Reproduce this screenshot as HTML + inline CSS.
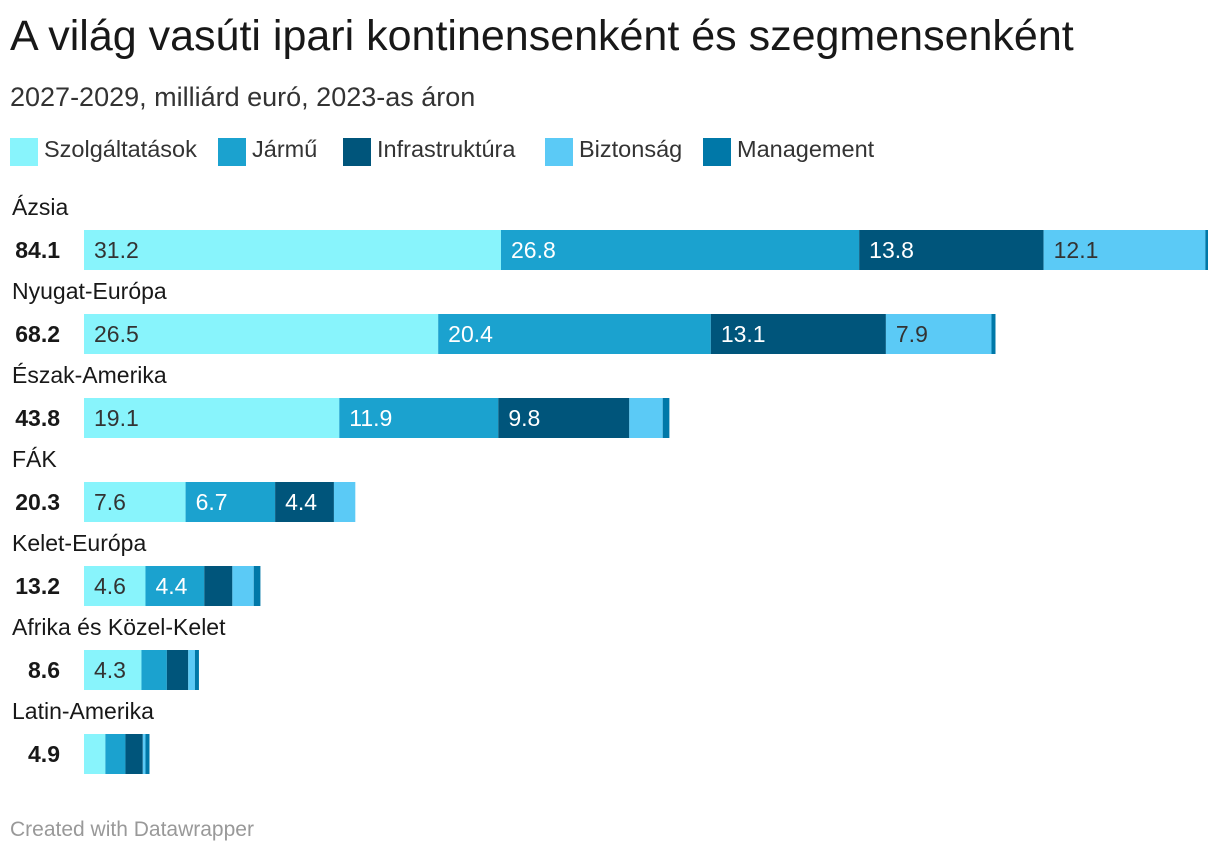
<!DOCTYPE html>
<html><head><meta charset="utf-8"><style>
body{margin:0;background:#fff;font-family:"Liberation Sans",sans-serif;color:#181818;}
#root{position:relative;width:1220px;height:854px;overflow:hidden;}
.t{position:absolute;white-space:nowrap;}
</style></head><body>
<div id="root">
<div class="t" style="left:10px;top:12px;font-size:43px;">A világ vasúti ipari kontinensenként és szegmensenként</div>
<div class="t" style="left:10px;top:82px;font-size:27px;color:#333;">2027-2029, milliárd euró, 2023-as áron</div>
<div id="legend"></div>
<svg id="plot" width="1220" height="854" style="position:absolute;left:0;top:0"></svg>
<div class="t" style="left:10px;top:818px;font-size:21px;color:#999;">Created with Datawrapper</div>
</div>
<script>
const categories=["Ázsia","Nyugat-Európa","Észak-Amerika","FÁK","Kelet-Európa","Afrika és Közel-Kelet","Latin-Amerika"];
const totals=[84.1,68.2,43.8,20.3,13.2,8.6,4.9];
const seriesNames=["Szolgáltatások","Jármű","Infrastruktúra","Biztonság","Management"];
const szolg=[31.2,26.5,19.1,7.6,4.6,4.3,1.6];
const jarmu=[26.8,20.4,11.9,6.7,4.4,1.9,1.5];
const infra=[13.8,13.1,9.8,4.4,2.1,1.6,1.3];
const bizt=[12.1,7.9,2.5,1.6,1.6,0.5,0.2];
const mgmt=[0.2,0.3,0.5,0.0,0.5,0.3,0.3];
const series=[szolg,jarmu,infra,bizt,mgmt];
const colors=["#88f4fc","#1ba2cf","#00557b","#5bcaf6","#0078a8"];
const textCol=["#333","#fff","#fff","#333","#fff"];
const x0=84, scale=(1208-84)/84.1;
const X=v=>v*scale;
const rowY=i=>230+i*84;
const svg=document.getElementById('plot');
const NS="http://www.w3.org/2000/svg";
const lg=document.getElementById('legend');
const lgX=[10,218,343,545,703];
seriesNames.forEach((n,k)=>{
  const lx=lgX[k];
  const sw=document.createElement('div');
  
  
  sw.style.cssText=`position:absolute;left:${lx}px;top:138px;width:28px;height:28px;background:${colors[k]}`;
  lg.appendChild(sw);
  const tx=document.createElement('div');
  tx.className='t';
  
  
  tx.style.cssText=`left:${lx+34}px;top:136px;font-size:23.5px;color:#333`;
  tx.textContent=n;
  lg.appendChild(tx);
});
categories.forEach((c,i)=>{
  const y=rowY(i);
  const lab=document.createElementNS(NS,'text');
  
  
  lab.setAttribute('x',12);lab.setAttribute('y',y-15);
  lab.setAttribute('font-size','23');lab.setAttribute('fill','#181818');
  lab.textContent=c;svg.appendChild(lab);
  const tot=document.createElementNS(NS,'text');
  
  
  tot.setAttribute('x',60);tot.setAttribute('y',y+28);tot.setAttribute('text-anchor','end');
  tot.setAttribute('font-size','23');tot.setAttribute('font-weight','bold');tot.setAttribute('fill','#181818');
  tot.textContent=totals[i].toFixed(1);svg.appendChild(tot);
  let cum=0;
  series.forEach((s,k)=>{
    const v=s[i];
    if(v<=0)return;
    const r=document.createElementNS(NS,'rect');
    
    
    r.setAttribute('x',x0+X(cum));r.setAttribute('y',y);
    r.setAttribute('width',X(v));r.setAttribute('height',40);
    r.setAttribute('fill',colors[k]);svg.appendChild(r);
    if(X(v)>50){
      const t=document.createElementNS(NS,'text');
      
      
      t.setAttribute('x',x0+X(cum)+10);t.setAttribute('y',y+28);
      t.setAttribute('font-size','23');t.setAttribute('fill',textCol[k]);
      t.textContent=v.toFixed(1);svg.appendChild(t);
    }
    cum+=v;
  });
});
</script>
</body></html>
